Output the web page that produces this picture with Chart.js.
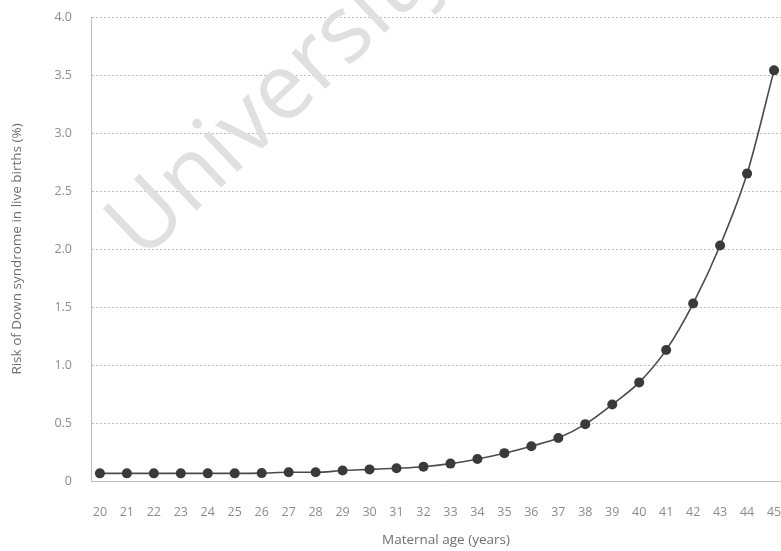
<!DOCTYPE html>
<html>
<head>
<meta charset="utf-8">
<script src="https://cdn.jsdelivr.net/npm/chart.js@4"></script>
<style>
    html, body { margin: 0; padding: 0; background: #fff; overflow: hidden; }
    #wrap { position: relative; width: 806px; height: 551px; }
</style>
</head>
<body>
<div id="wrap"><canvas id="riskChart"></canvas></div>
<script>
// Maternal age (years) and risk of Down syndrome in live births (%)
const ages = [20, 21, 22, 23, 24, 25, 26, 27, 28, 29, 30, 31, 32, 33, 34, 35, 36, 37, 38, 39, 40, 41, 42, 43, 44, 45];
const riskValues = [0.066, 0.066, 0.066, 0.066, 0.066, 0.066, 0.068, 0.075, 0.075, 0.09, 0.10, 0.11, 0.123, 0.15, 0.19, 0.24, 0.30, 0.37, 0.49, 0.66, 0.85, 1.13, 1.53, 2.03, 2.65, 3.54];
const yTickValues = [0, 0.5, 1.0, 1.5, 2.0, 2.5, 3.0, 3.5, 4.0];
const watermarkText = 'University';

const textGrey = '#8c8c8c';
const gridGrey = '#bdbdbd';

// watermark drawn under the line but over the grid
const watermark = {
    id: 'watermark',
    beforeDatasetsDraw(chart) {
        const ctx = chart.ctx;
        ctx.save();
        ctx.translate(142, 262);
        ctx.rotate(-Math.PI / 4.15);
        ctx.font = '400 92px "Open Sans", sans-serif';
        ctx.fillStyle = '#e0e0e0';
        ctx.textBaseline = 'alphabetic';
        ctx.fillText(watermarkText, 0, 0);
        ctx.restore();
    }
};

const ctx = document.getElementById('riskChart').getContext('2d');
const chartRisk = new Chart(ctx, {
    type: 'line',
    data: {
        datasets: [
            {
                label: 'Risk',
                data: ages.map((a, i) => ({ x: a, y: riskValues[i] })),
                borderColor: '#4a4a4a',
                borderWidth: 1.6,
                backgroundColor: '#3a3a3a',
                pointBackgroundColor: '#3a3a3a',
                pointBorderColor: '#3a3a3a',
                pointRadius: 5,
                pointBorderWidth: 0,
                cubicInterpolationMode: 'monotone',
                fill: false,
                clip: false
            }
        ]
    },
    options: {
        responsive: true,
        maintainAspectRatio: false,
        animation: false,
        layout: { padding: { top: 17, left: 0, right: 0, bottom: 0 } },
        plugins: {
            legend: { display: false },
            tooltip: { enabled: false }
        },
        scales: {
            x: {
                type: 'linear',
                min: 19.67,
                max: 46,
                afterBuildTicks: (scale) => {
                    scale.ticks = ages.map(a => ({ value: a }));
                },
                afterFit: (scale) => { scale.height = 70; },
                grid: { display: false, drawTicks: false },
                border: { display: true, color: gridGrey, dash: [2, 2], width: 1 },
                ticks: {
                    color: textGrey,
                    font: { family: '"Open Sans", sans-serif', size: 12.5 },
                    padding: 24,
                    maxRotation: 0,
                    autoSkip: false
                },
                title: {
                    display: true,
                    text: 'Maternal age (years)',
                    color: '#6f6f6f',
                    font: { family: '"Open Sans", sans-serif', size: 13.5 },
                    padding: { top: 0, bottom: 3 }
                }
            },
            y: {
                min: 0,
                max: 4,
                afterBuildTicks: (scale) => {
                    scale.ticks = yTickValues.map(v => ({ value: v }));
                },
                afterFit: (scale) => {
                    scale.width = 91;
                    scale.paddingTop = 0;
                    scale.paddingBottom = 0;
                },
                grid: {
                    color: gridGrey,
                    lineWidth: 1,
                    drawTicks: false
                },
                border: { display: true, color: gridGrey, dash: [2, 2], width: 1 },
                ticks: {
                    color: textGrey,
                    font: { family: '"Open Sans", sans-serif', size: 12.5 },
                    padding: 19,
                    callback: (value) => value === 0 ? '0' : value.toFixed(1)
                },
                title: {
                    display: true,
                    text: 'Risk of Down syndrome in live births (%)',
                    color: '#6f6f6f',
                    font: { family: '"Open Sans", sans-serif', size: 13.5 },
                    padding: { top: 9, bottom: 0 }
                }
            }
        }
    },
    plugins: [watermark]
});

// dotted horizontal grid lines
chartRisk.options.scales.y.grid.borderDash = [2, 2];
chartRisk.update();
</script>
</body>
</html>
